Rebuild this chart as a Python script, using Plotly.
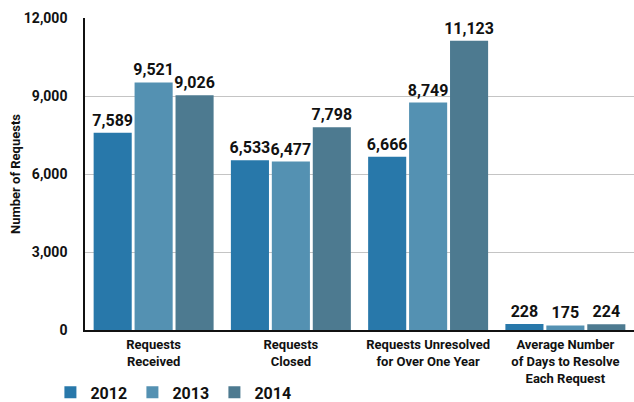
import plotly.graph_objects as go

categories = ["Requests<br>Received", "Requests<br>Closed",
              "Requests Unresolved<br>for Over One Year",
              "Average Number<br>of Days to Resolve<br>Each Request"]
years = ["2012", "2013", "2014"]
v2012 = [7589, 6533, 6666, 228]
v2013 = [9521, 6477, 8749, 175]
v2014 = [9026, 7798, 11123, 224]
colors = ["#2878aa", "#5491b2", "#4d7a90"]
tick_vals = [0, 3000, 6000, 9000, 12000]
tick_text = ["0", "3,000", "6,000", "9,000", "12,000"]

FONT = "Roboto, sans-serif"

fig = go.Figure()
for yr, vals, c in zip(years, [v2012, v2013, v2014], colors):
    fig.add_trace(go.Bar(
        x=categories, y=vals, name=yr, marker=dict(color=c, line=dict(width=0)),
        text=[f"{v:,}" for v in vals], textposition="outside", cliponaxis=False,
        constraintext="none", textangle=0,
        textfont=dict(family=FONT, size=16, color="#111111", weight="bold"),
    ))

fig.update_layout(
    width=634, height=402, barmode="group", bargap=0.105, bargroupgap=0.07,
    margin=dict(l=85, r=0, t=18, b=72, autoexpand=False),
    paper_bgcolor="white", plot_bgcolor="white",
    font=dict(family=FONT, color="#111111"),
    showlegend=True,
    legend=dict(orientation="h", x=-0.063, y=-0.2, xanchor="left", yanchor="middle",
                font=dict(family=FONT, size=16, weight="bold"),
                tracegroupgap=0, entrywidth=37),
    yaxis=dict(range=[0, 12000], tickvals=tick_vals, ticktext=tick_text,
               showgrid=True, gridcolor="#c4c4c4", gridwidth=1, automargin=False,
               showline=True, linecolor="#111111", linewidth=1.5,
               zeroline=False, ticks="", ticklabelstandoff=13,
               tickfont=dict(family=FONT, size=14, weight="bold"),
               title=dict(text="Number of Requests", standoff=0,
                          font=dict(family=FONT, size=13, weight="bold"))),
    xaxis=dict(showline=True, linecolor="#111111", linewidth=1.5, ticks="",
               automargin=False, ticklabelstandoff=2,
               tickfont=dict(family=FONT, size=13, weight="bold")),
)

fig.write_html("out.html", config={"displayModeBar": False},
               post_script="document.body.style.margin='0';")
